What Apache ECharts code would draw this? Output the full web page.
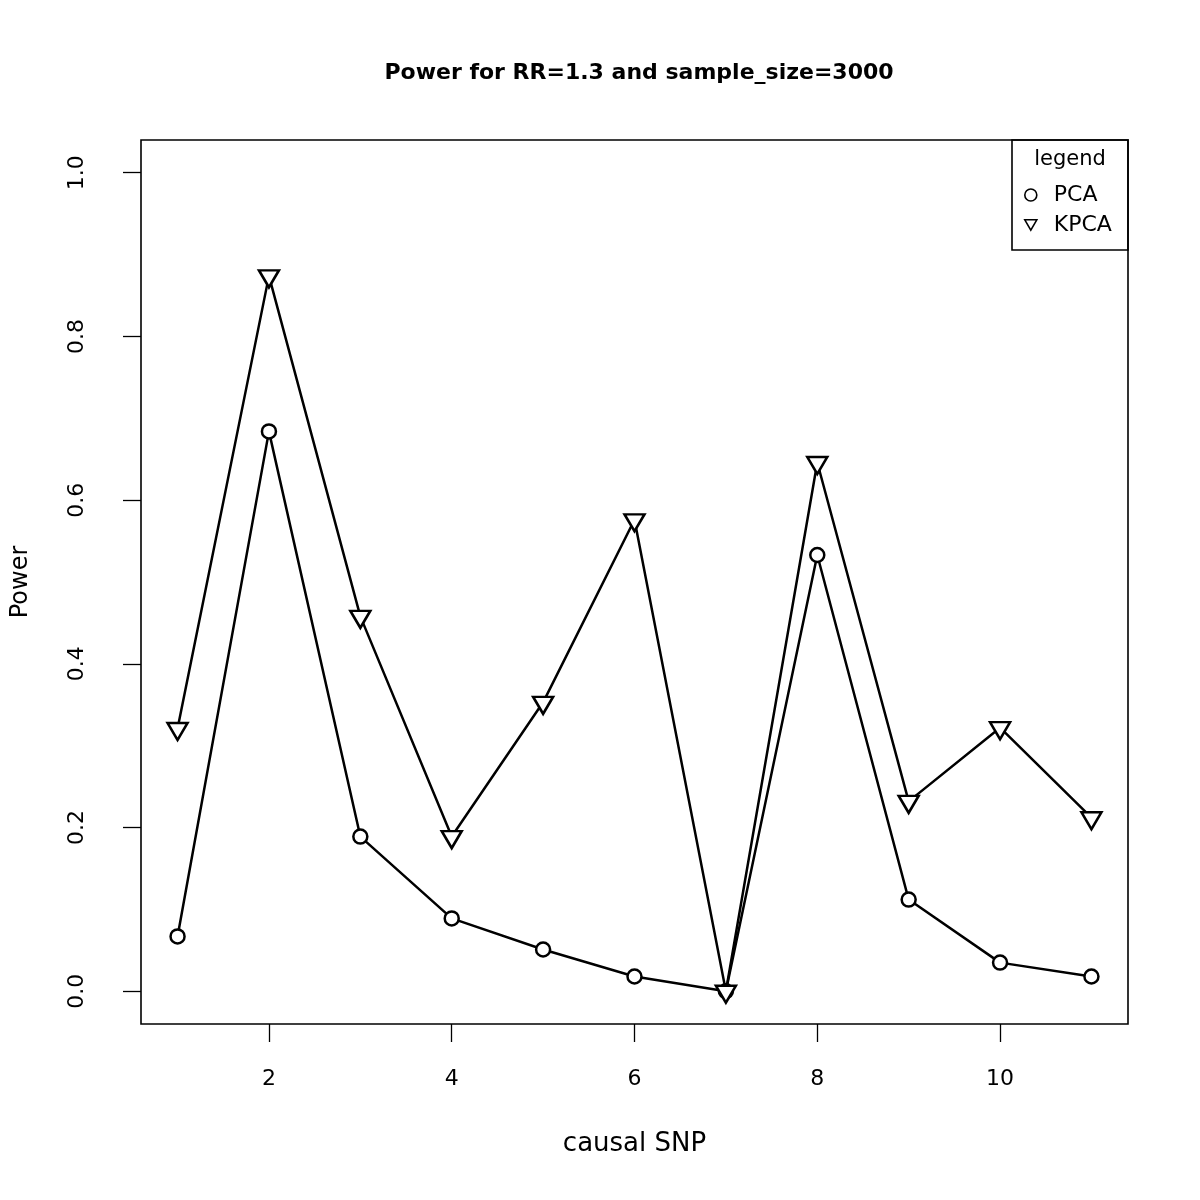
<!DOCTYPE html>
<html>
<head>
<meta charset="utf-8">
<script src="https://cdn.jsdelivr.net/npm/echarts@6/dist/echarts.min.js"></script>
<style>html,body{margin:0;padding:0;background:#fff}#c{width:1200px;height:1200px}</style>
</head>
<body>
<div id="c"></div>
<script>
var snp = [1, 2, 3, 4, 5, 6, 7, 8, 9, 10, 11];
var pca = [0.067, 0.684, 0.189, 0.089, 0.051, 0.018, 0.0, 0.533, 0.112, 0.035, 0.018];
var kpca = [0.321, 0.874, 0.458, 0.189, 0.353, 0.576, 0.0, 0.646, 0.232, 0.322, 0.212];
var xTicks = [2, 4, 6, 8, 10];
var yTicks = [0, 0.2, 0.4, 0.6, 0.8, 1.0];

var F = '"DejaVu Sans", "Liberation Sans", Arial, sans-serif';
var tri = 'path://M0,0 L2.694,0 L1.347,2.333 Z';

function pairs(ys) { return snp.map(function (x, i) { return [x, ys[i]]; }); }

var chart = echarts.init(document.getElementById('c'), null, { renderer: 'canvas' });
chart.setOption({
  animation: false,
  backgroundColor: '#fff',
  title: {
    text: 'Power for RR=1.3 and sample_size=3000',
    left: 634, top: 57, textAlign: 'center',
    textStyle: { fontFamily: F, fontSize: 22, fontWeight: 'bold', color: '#000' }
  },
  grid: {
    left: 141, top: 140, width: 987, height: 884,
    show: true, borderColor: '#000', borderWidth: 1.6, backgroundColor: 'transparent'
  },
  legend: {
    orient: 'vertical', left: 1024, top: 184, padding: 0, itemGap: 8,
    itemWidth: 12, itemHeight: 12,
    textStyle: { fontFamily: F, fontSize: 22, color: '#000', padding: [0, 0, 0, 12], lineHeight: 22 },
    data: [
      { name: 'PCA', icon: 'circle', itemStyle: { color: '#fff', borderColor: '#000', borderWidth: 1.6 } },
      { name: 'KPCA', icon: tri, itemStyle: { color: '#fff', borderColor: '#000', borderWidth: 1.6 } }
    ]
  },
  graphic: [
    { type: 'rect', shape: { x: 1012, y: 140, width: 116, height: 110 },
      style: { fill: 'none', stroke: '#000', lineWidth: 1.6 }, z: 100 },
    { type: 'text', x: 1070, y: 160, z: 100,
      style: { text: 'legend', fontFamily: F, fontSize: 21, fill: '#000', align: 'center', verticalAlign: 'middle' } }
  ],
  xAxis: {
    type: 'value', min: 0.6, max: 11.4,
    name: 'causal SNP', nameLocation: 'middle', nameGap: 107,
    nameTextStyle: { fontFamily: F, fontSize: 26, color: '#000' },
    axisLine: { show: false, onZero: false },
    splitLine: { show: false },
    axisTick: { show: true, length: 18, inside: false, customValues: xTicks, lineStyle: { color: '#000', width: 1.3 } },
    axisLabel: { customValues: xTicks, margin: 44, fontFamily: F, fontSize: 22, color: '#000' }
  },
  yAxis: {
    type: 'value', min: -0.04, max: 1.04,
    name: 'Power', nameLocation: 'middle', nameGap: 108,
    nameTextStyle: { fontFamily: F, fontSize: 24, color: '#000' },
    axisLine: { show: false, onZero: false },
    splitLine: { show: false },
    axisTick: { show: true, length: 18, inside: false, customValues: yTicks, lineStyle: { color: '#000', width: 1.3 } },
    axisLabel: { customValues: yTicks, rotate: 90, margin: 53, fontFamily: F, fontSize: 22, color: '#000',
      formatter: function (v) { return v.toFixed(1); } }
  },
  series: [
    {
      name: 'PCA', type: 'line', data: pairs(pca),
      symbol: 'circle', symbolSize: 14,
      lineStyle: { color: '#000', width: 2.5 },
      itemStyle: { color: '#fff', borderColor: '#000', borderWidth: 2.5 },
      z: 3
    },
    {
      name: 'KPCA', type: 'line', data: pairs(kpca),
      symbol: tri, symbolSize: [20, 17], symbolOffset: [0, 3],
      lineStyle: { color: '#000', width: 2.5 },
      itemStyle: { color: '#fff', borderColor: '#000', borderWidth: 2.5 },
      z: 4
    }
  ]
});
</script>
</body>
</html>
